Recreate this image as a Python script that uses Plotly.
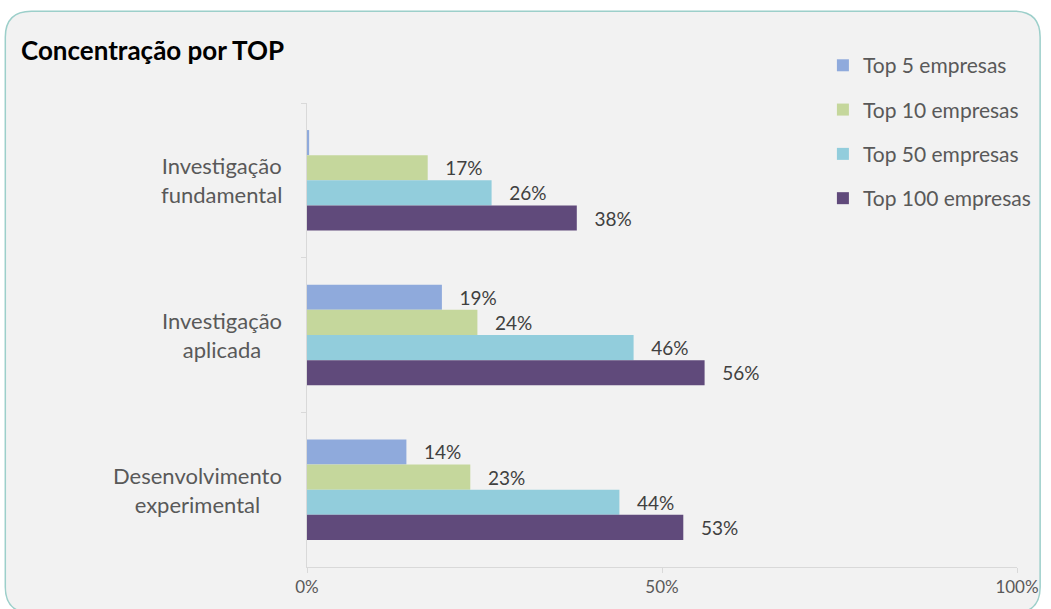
import plotly.graph_objects as go

categories = ["Investigação fundamental", "Investigação aplicada", "Desenvolvimento experimental"]
category_labels = ["Investigação<br>fundamental", "Investigação<br>aplicada", "Desenvolvimento<br>experimental"]
series_names = ["Top 5 empresas", "Top 10 empresas", "Top 50 empresas", "Top 100 empresas"]
top5 = [0.003, 0.19, 0.14]
top10 = [0.17, 0.24, 0.23]
top50 = [0.26, 0.46, 0.44]
top100 = [0.38, 0.56, 0.53]
top5_labels = ["", "19%", "14%"]
colors = ["#8faadc", "#c5d79c", "#92cddc", "#604a7b"]

W, H = 1051, 609
L, R, T, B = 307, 1013, 103, 568  # plot area in window pixels
R_MARGIN = 26  # the page renders the figure ~12px narrower than requested

def px(x):
    return (x - L) / (R - L)

def py(y):
    return (B - y) / (B - T)

FONT = "Lato"
fig = go.Figure()
all_vals = [top5, top10, top50, top100]
for i, (name, vals) in enumerate(zip(series_names, all_vals)):
    if i == 0:
        txt = top5_labels
    else:
        txt = [f"{round(v*100)}%" for v in vals]
    fig.add_trace(go.Bar(
        y=categories, x=vals, name=name, orientation="h",
        marker=dict(color=colors[i], line=dict(width=0)),
        text=["   " + t if t else "" for t in txt],
        textposition="outside", textfont=dict(size=19, color="#404040", family=FONT),
        cliponaxis=False, legendgroup=name,
    ))

# rounded background box
x0, y0, x1, y1, r = 7, 11, 1036, 614, 26
path = (f"M {px(x0+r)},{py(y0)} L {px(x1-r)},{py(y0)} "
        f"Q {px(x1)},{py(y0)} {px(x1)},{py(y0+r)} L {px(x1)},{py(y1-r)} "
        f"Q {px(x1)},{py(y1)} {px(x1-r)},{py(y1)} L {px(x0+r)},{py(y1)} "
        f"Q {px(x0)},{py(y1)} {px(x0)},{py(y1-r)} L {px(x0)},{py(y0+r)} "
        f"Q {px(x0)},{py(y0)} {px(x0+r)},{py(y0)} Z")
fig.add_shape(type="path", path=path, xref="paper", yref="paper",
              fillcolor="#f2f2f2", line=dict(color="#9ccfca", width=1.5), layer="below")

for cat, lab in zip(categories, category_labels):
    fig.add_annotation(x=px(284), y=cat, xref="paper", yref="y", text=lab,
                       showarrow=False, align="center", xanchor="right", yanchor="middle",
                       font=dict(size=22, color="#595959", family=FONT))

fig.add_annotation(x=px(21), y=py(50), xref="paper", yref="paper",
                   text="<b>Concentração por TOP</b>", showarrow=False,
                   xanchor="left", yanchor="middle",
                   font=dict(size=26, color="#000000", family=FONT))

fig.update_layout(
    width=W, height=H,
    margin=dict(l=L, r=R_MARGIN, t=T, b=H - B),
    paper_bgcolor="white", plot_bgcolor="rgba(0,0,0,0)",
    barmode="group", bargap=0.35, bargroupgap=0,
    showlegend=True,
    legend=dict(x=px(820), y=py(45), xanchor="left", yanchor="top",
                bgcolor="rgba(0,0,0,0)", traceorder="grouped", tracegroupgap=14,
                font=dict(size=21, color="#595959", family=FONT)),
    xaxis=dict(range=[0, 1], tickvals=[0, 0.5, 1], tickformat=".0%",
               showgrid=False, zeroline=False, showline=True, linecolor="#d9d9d9",
               ticks="outside", ticklen=5, tickcolor="#d9d9d9",
               tickfont=dict(size=17, color="#595959", family=FONT)),
    yaxis=dict(autorange="reversed", showticklabels=False, showgrid=False,
               showline=True, linecolor="#d9d9d9", ticks="outside", ticklen=5,
               tickcolor="#d9d9d9", tickson="boundaries"),
)

post = ("document.body.style.margin='0';document.body.style.overflow='hidden';"
        "var gd=document.getElementById('{plot_id}');"
        "Plotly.relayout(gd,{width:%d,height:%d});" % (W, H))
fig.write_html("out.html", config={"displayModeBar": False}, post_script=[post])
